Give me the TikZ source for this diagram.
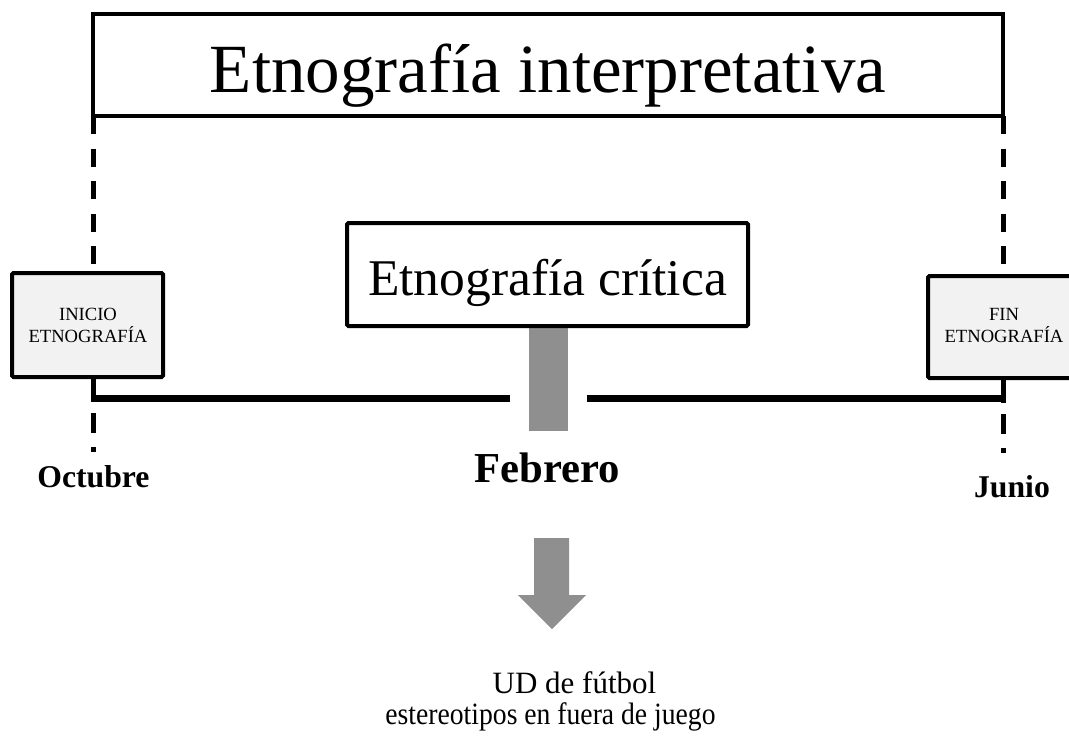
\documentclass[tikz,border=0pt]{standalone}
\usepackage{fontspec}
\setmainfont{Liberation Serif}
\definecolor{boxfill}{HTML}{F2F2F2}
\definecolor{bargray}{HTML}{8F8F8F}
\tikzset{
  bigbox/.style={draw=black, line width=4.5pt, fill=white, inner sep=0pt},
  midbox/.style={draw=black, line width=4pt, fill=white, inner sep=0pt, rounded corners=1.5pt},
  smallbox/.style={draw=black, line width=4pt, fill=boxfill, inner sep=0pt, rounded corners=1.5pt},
  smalltext/.style={inner sep=0pt, anchor=base, font=\fontsize{18.6}{22}\selectfont},
  month/.style={inner sep=0pt, anchor=base, font=\bfseries\fontsize{31.7}{36}\selectfont},
  timeline/.style={line width=7pt},
  dashline/.style={line width=5pt, dash pattern=on 18pt off 14.5pt},
  dashlow/.style={line width=5pt, dash pattern=on 25pt off 11pt on 20pt off 14pt on 5pt off 100pt},
  grayshape/.style={fill=bargray, draw=none}
}
\begin{document}
\begin{tikzpicture}[x=1pt,y=-1pt]
\useasboundingbox (0,0) rectangle (1069,736);
\fill[white] (0,0) rectangle (1069,736);
\begin{scope}
\clip (0,0) rectangle (1069,736);
% coordinates for the connectors
\coordinate (lt) at (93,116);
\coordinate (rt) at (1003,116);
\coordinate (lb) at (93,377);
\coordinate (rb) at (1003,378);
\coordinate (lh) at (93,398);
\coordinate (rh) at (1003,398);
\coordinate (gl) at (510,398);
\coordinate (gr) at (587,398);
% dashed verticals
\draw[dashline] (lt) -- (93,273);
\draw[dashline] (rt) -- (1003,276);
\draw[dashlow] (lb) -- (93,460);
\draw[dashlow] (rb) -- (1003,461);
% timeline
\draw[timeline] (lh) -- (gl);
\draw[timeline] (gr) -- (rh);
% top box
\node[bigbox, minimum width=910pt, minimum height=102pt,
      text height=78pt, text depth=24pt,
      font=\fontsize{69}{80}\selectfont] (top) at (548,65) {Etnograf\'{\i}a interpretativa};
% gray bar
\node[grayshape, inner sep=0pt, minimum width=39pt, minimum height=104pt] (bar) at (548.5,379) {};
% critica box
\node[midbox, minimum width=401pt, minimum height=103pt,
      text height=72pt, text depth=31pt,
      font=\fontsize{51.5}{60}\selectfont] (crit) at (547.5,274.5) {Etnograf\'{\i}a cr\'{\i}tica};
% start / end boxes
\node[smallbox, minimum width=151pt, minimum height=104pt] (ini) at (87.5,325) {};
\node[smalltext] (ini1) at (88,320) {INICIO};
\node[smalltext] (ini2) at (88,342) {ETNOGRAF\'IA};
\node[smallbox, minimum width=150pt, minimum height=102pt] (fin) at (1003,327) {};
\node[smalltext] (fin1) at (1004,320) {FIN};
\node[smalltext] (fin2) at (1004,342) {ETNOGRAF\'IA};
% months
\node[month] (oct) at (93.5,487) {Octubre};
\node[month] (jun) at (1012,497) {Junio};
\node[month, font=\bfseries\fontsize{42.7}{48}\selectfont] (feb) at (547,482) {Febrero};
% arrow
\fill[bargray] (534,538) -- (569,538) -- (569,595) -- (586,595) -- (552,629) -- (518,595) -- (534,595) -- cycle;
% result text
\node[inner sep=0pt, anchor=base, font=\fontsize{31}{35}\selectfont] (ud) at (574.5,693) {UD de f\'utbol};
\node[inner sep=0pt, anchor=base, font=\fontsize{31}{35}\selectfont] (est) at (550.5,724) {\scalebox{0.892}[1]{estereotipos en fuera de juego}};
\end{scope}
\end{tikzpicture}
\end{document}
